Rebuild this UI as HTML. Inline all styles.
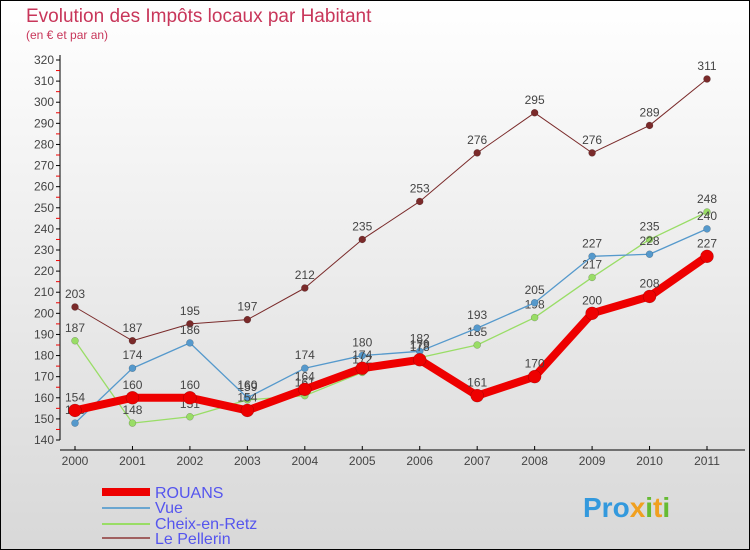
<!DOCTYPE html>
<html><head><meta charset="utf-8"><style>
body{margin:0;}
svg{display:block;font-family:"Liberation Sans",sans-serif;}
</style></head><body>
<svg id="chart" width="750" height="550" xmlns="http://www.w3.org/2000/svg">
<defs><linearGradient id="bg" x1="0" y1="0" x2="0" y2="1"><stop offset="0" stop-color="#ffffff"/><stop offset="1" stop-color="#d8d8d8"/></linearGradient></defs>
<rect x="0.5" y="0.5" width="749" height="549" fill="url(#bg)" stroke="#000"/>
<text x="26" y="22" font-size="19" fill="#c8365a">Evolution des Impôts locaux par Habitant</text>
<text x="26" y="39" font-size="12" fill="#c8365a">(en € et par an)</text>
<g id="axes"></g>
<g id="series"></g>
<g id="legend">
<line x1="102" y1="492" x2="150" y2="492" stroke="#e00" stroke-width="8"/>
<text x="155" y="498" font-size="16" fill="#5555ee">ROUANS</text>
<line x1="102" y1="508" x2="150" y2="508" stroke="#6aa6d0" stroke-width="2"/>
<text x="155" y="513" font-size="16" fill="#5555ee">Vue</text>
<line x1="102" y1="524" x2="150" y2="524" stroke="#99dd66" stroke-width="2"/>
<text x="155" y="529" font-size="16" fill="#5555ee">Cheix-en-Retz</text>
<line x1="102" y1="538" x2="150" y2="538" stroke="#a06060" stroke-width="2"/>
<text x="155" y="544" font-size="16" fill="#5555ee">Le Pellerin</text>
</g>
<text x="583" y="517" font-size="28" font-weight="bold" fill="#3399dd">Pro<tspan fill="#f0a020">x</tspan><tspan fill="#66bb33">i</tspan><tspan fill="#f0a020">t</tspan><tspan fill="#66bb33">i</tspan></text>
</svg>
<script>
const years=["2000","2001","2002","2003","2004","2005","2006","2007","2008","2009","2010","2011"];
const rouans=[154,160,160,154,164,174,178,161,170,200,208,227];
const vue=[148,174,186,160,174,180,182,193,205,227,228,240];
const cheix=[187,148,151,159,161,172,179,185,198,217,235,248];
const pellerin=[203,187,195,197,212,235,253,276,295,276,289,311];
const yTicks=[140,150,160,170,180,190,200,210,220,230,240,250,260,270,280,290,300,310,320];
const NS="http://www.w3.org/2000/svg";
function x(i){return 75+i*(707-75)/(years.length-1);}
function y(v){return 440-(v-140)*(380/180);}
function mk(tag,attrs,parent){const e=document.createElementNS(NS,tag);for(const k in attrs)e.setAttribute(k,attrs[k]);parent.appendChild(e);return e;}
const ax=document.getElementById('axes');
let l=mk('line',{x1:60,y1:y(320)-5,x2:60,y2:y(140),stroke:'#000'},ax);


l=mk('line',{x1:60,y1:450,x2:745,y2:450,stroke:'#000'},ax);


yTicks.forEach(t=>{
  mk('line',{x1:56,y1:y(t),x2:60,y2:y(t),stroke:'#000'},ax);
  if(t<320)mk('line',{x1:56,y1:y(t+5),x2:60,y2:y(t+5),stroke:'#e00'},ax);
  const tx=mk('text',{x:54,y:y(t)+4,'font-size':12,fill:'#444','text-anchor':'end'},ax);
  tx.textContent=t;
  
  
});
years.forEach((yr,i)=>{
  mk('line',{x1:x(i),y1:446,x2:x(i),y2:450,stroke:'#000'},ax);
  const tx=mk('text',{x:x(i),y:465,'font-size':12,fill:'#444','text-anchor':'middle'},ax);
  tx.textContent=yr;
  
  
});
const sg=document.getElementById('series');
function draw(vals,color,w,r,name){
  const g=mk('g',{},sg);
  
  
  mk('polyline',{points:vals.map((v,i)=>x(i)+','+y(v)).join(' '),fill:'none',stroke:color,'stroke-width':w,'stroke-linejoin':'round'},g);
  vals.forEach((v,i)=>{
    const c=mk('circle',{cx:x(i),cy:y(v),r:r,fill:color,stroke:'rgba(0,0,0,0.3)','stroke-width':0.5},g);
    
    
    const t=mk('text',{x:x(i),y:y(v)-9,'font-size':12,fill:'#444','text-anchor':'middle'},g);
    t.textContent=v;
    
    
  });
}
draw(pellerin,'#7a2a2a',1,3.5,'series-le-pellerin');
draw(cheix,'#99dd66',1.3,3.5,'series-cheix-en-retz');
draw(vue,'#5599cc',1.3,3.5,'series-vue');
draw(rouans,'#ee0000',8,6.5,'series-rouans');
</script>
</body></html>
